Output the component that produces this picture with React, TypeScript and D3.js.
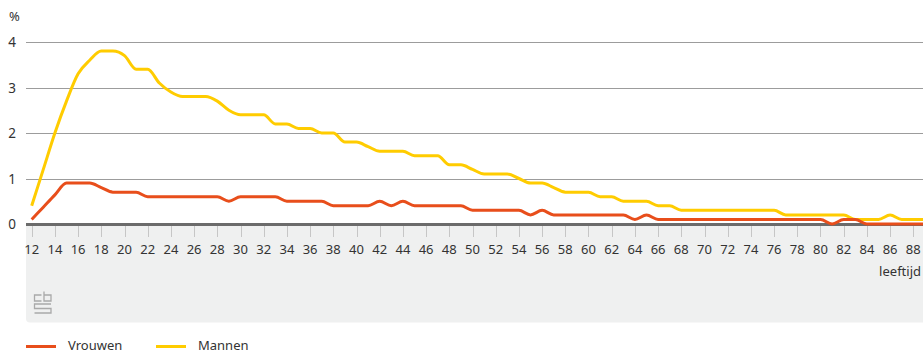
import React from "react";
import * as d3 from "d3";

const ages: number[] = d3.range(12, 90);
const mannen: number[] = [
  0.4, 1.2, 2.0, 2.7, 3.3, 3.6, 3.8, 3.8, 3.7, 3.4, // 12-21
  3.4, 3.1, 2.9, 2.8, 2.8, 2.8, 2.7, 2.5, 2.4, 2.4, // 22-31
  2.4, 2.2, 2.2, 2.1, 2.1, 2.0, 2.0, 1.8, 1.8, 1.7, // 32-41
  1.6, 1.6, 1.6, 1.5, 1.5, 1.5, 1.3, 1.3, 1.2, 1.1, // 42-51
  1.1, 1.1, 1.0, 0.9, 0.9, 0.8, 0.7, 0.7, 0.7, 0.6, // 52-61
  0.6, 0.5, 0.5, 0.5, 0.4, 0.4, 0.3, 0.3, 0.3, 0.3, // 62-71
  0.3, 0.3, 0.3, 0.3, 0.3, 0.2, 0.2, 0.2, 0.2, 0.2, // 72-81
  0.2, 0.1, 0.1, 0.1, 0.2, 0.1, 0.1, 0.1,           // 82-89
];
const vrouwen: number[] = [
  0.1, 0.37, 0.64, 0.9, 0.9, 0.9, 0.8, 0.7, 0.7, 0.7, // 12-21
  0.6, 0.6, 0.6, 0.6, 0.6, 0.6, 0.6, 0.5, 0.6, 0.6, // 22-31
  0.6, 0.6, 0.5, 0.5, 0.5, 0.5, 0.4, 0.4, 0.4, 0.4, // 32-41
  0.5, 0.4, 0.5, 0.4, 0.4, 0.4, 0.4, 0.4, 0.3, 0.3, // 42-51
  0.3, 0.3, 0.3, 0.2, 0.3, 0.2, 0.2, 0.2, 0.2, 0.2, // 52-61
  0.2, 0.2, 0.1, 0.2, 0.1, 0.1, 0.1, 0.1, 0.1, 0.1, // 62-71
  0.1, 0.1, 0.1, 0.1, 0.1, 0.1, 0.1, 0.1, 0.1, 0.0, // 72-81
  0.1, 0.1, 0.0, 0.0, 0.0, 0.0, 0.0, 0.0,           // 82-89
];
const yTicks: number[] = [0, 1, 2, 3, 4];
const xTicks: number[] = d3.range(12, 89, 2);
const seriesNames: string[] = ["Vrouwen", "Mannen"];
const seriesColors: string[] = ["#e84e1b", "#ffcc00"];
const yUnit = "%";
const xTitle = "leeftijd";

const W = 923;
const H = 353;
const FONT = "'Noto Sans', 'Open Sans', sans-serif";

export default function App() {
  const x = d3.scaleLinear().domain([12, 89]).range([31.7, 924.9]);
  const y = d3.scaleLinear().domain([0, 4]).range([224, 42]);
  const line = d3
    .line<number>()
    .x((_, i) => x(ages[i]))
    .y((d) => y(d))
    .curve(d3.curveMonotoneX);

  const plotLeft = 26;
  const bgTop = 225.5;
  const bgBottom = 322.5;
  const r = 4;
  const bgPath = `M${plotLeft},${bgTop} H${W} V${bgBottom} H${plotLeft + r} A${r},${r} 0 0 1 ${plotLeft},${bgBottom - r} Z`;

  return (
    <svg
      width={W}
      height={H}
      style={{ position: "absolute", left: 0, top: 0, background: "#fff" }}
      fontFamily={FONT}
    >
      <path d={bgPath} fill="#eff0f0" />
      {/* gridlines */}
      {yTicks
        .filter((t) => t > 0)
        .map((t) => (
          <line key={t} x1={plotLeft} x2={W} y1={Math.round(y(t)) + 0.5} y2={Math.round(y(t)) + 0.5} stroke="#9c9c9c" strokeWidth={1} />
        ))}
      {/* y labels */}
      {yTicks.map((t) => (
        <text key={t} x={16} y={y(t)} textAnchor="end" dominantBaseline="central" fontSize={13.5} fill="#333">
          {t}
        </text>
      ))}
      <text x={9} y={21} fontSize={13} fill="#333">
        {yUnit}
      </text>
      {/* x ticks */}
      {xTicks.map((t) => (
        <g key={t}>
          <line x1={Math.round(x(t)) + 0.5} x2={Math.round(x(t)) + 0.5} y1={226} y2={237} stroke="#c6c6c6" strokeWidth={1} />
          <text x={x(t)} y={254} textAnchor="middle" fontSize={13} fill="#333">
            {t}
          </text>
        </g>
      ))}
      <text x={921} y={276} textAnchor="end" fontSize={13} fill="#333">
        {xTitle}
      </text>
      {/* logo */}
      <g transform="translate(33.5,291.5)" fill="none" stroke="#a9a9a9" strokeWidth={1.3}>
        <path d="M8,3.5 H1 V9.5 H8" />
        <path d="M10.5,0 V9.5 H17.5 V3.5 H10.5" />
        <path d="M17.5,12.5 H1 V17 H17.5 V21.5 H1" />
      </g>
      {/* zero line */}
      <line x1={plotLeft} x2={W} y1={224.5} y2={224.5} stroke="#6b6b6b" strokeWidth={3} />
      {/* series */}
      <g>
        <path d={line(mannen) ?? ""} fill="none" stroke={seriesColors[1]} strokeWidth={3} strokeLinejoin="round" />
        <path d={line(vrouwen) ?? ""} fill="none" stroke={seriesColors[0]} strokeWidth={3} strokeLinejoin="round" />
      </g>
      {/* legend */}
      {seriesNames.map((n, i) => (
        <g key={n} transform={`translate(${26 + i * 130},0)`}>
          <line x1={0} x2={30} y1={346.5} y2={346.5} stroke={seriesColors[i]} strokeWidth={3} />
          <text x={42} y={344.5} dominantBaseline="central" fontSize={13} fill="#333">
            {n}
          </text>
        </g>
      ))}
    </svg>
  );
}
